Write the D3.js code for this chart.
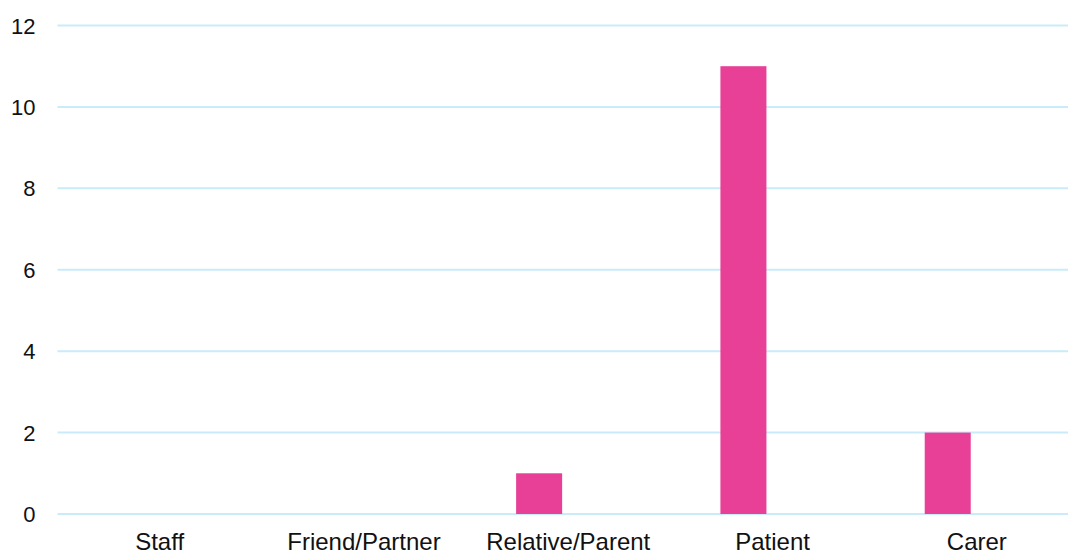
<!DOCTYPE html>
<html>
<head>
<meta charset="utf-8">
<script src="https://cdn.jsdelivr.net/npm/d3@7"></script>
<style>
  body { margin: 0; background: #fff; }
  text { font-family: "Liberation Sans", Arial, sans-serif; fill: #111; }
</style>
</head>
<body>
<svg id="chart" width="1068" height="553"></svg>
<script>
// chart data
var categories = ["Staff", "Friend/Partner", "Relative/Parent", "Patient", "Carer"];
var counts = [0, 0, 1, 11, 2];
var yTicks = [0, 2, 4, 6, 8, 10, 12];

var svg = d3.select("#chart");
var margin = {left: 57.5, right: 1079, top: 25.5, bottom: 514};

var x = d3.scaleBand()
    .domain(categories)
    .range([margin.left, margin.right]);

// bar sits a bit left of centre inside each band
var xInner = d3.scaleBand()
    .domain(["count"])
    .range([0, x.bandwidth()])
    .paddingOuter(1.72)
    .align(0.316);

var y = d3.scaleLinear()
    .domain([0, 12])
    .range([margin.bottom, margin.top]);

// gridlines
svg.append("g")
    .selectAll("line")
    .data(yTicks)
    .enter()
    .append("line")
    .attr("x1", margin.left)
    .attr("x2", 1068)
    .attr("y1", function(d) { return y(d); })
    .attr("y2", function(d) { return y(d); })
    .attr("stroke", "#c9ebfa")
    .attr("stroke-width", 2);

// y tick labels
svg.append("g")
    .selectAll("text")
    .data(yTicks)
    .enter()
    .append("text")
    .attr("x", 35.5)
    .attr("y", function(d) { return y(d) + 8; })
    .attr("text-anchor", "end")
    .style("font-size", "22px")
    .text(function(d) { return d; });

// bars
svg.append("g")
    .selectAll("rect")
    .data(categories)
    .enter()
    .append("rect")
    .attr("x", function(d) { return x(d) + xInner("count"); })
    .attr("width", xInner.bandwidth())
    .attr("y", function(d, i) { return y(counts[i]); })
    .attr("height", function(d, i) { return y(0) - y(counts[i]); })
    .attr("fill", "#e83f97");

// x labels
svg.append("g")
    .selectAll("text")
    .data(categories)
    .enter()
    .append("text")
    .attr("x", function(d) { return x(d) + x.bandwidth() / 2; })
    .attr("y", 550)
    .attr("text-anchor", "middle")
    .style("font-size", "24px")
    .text(function(d) { return d; });
</script>
</body>
</html>
